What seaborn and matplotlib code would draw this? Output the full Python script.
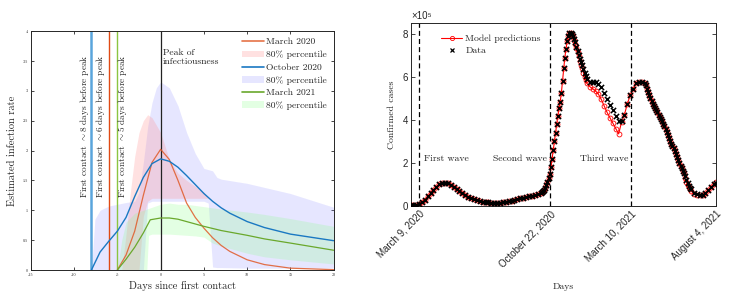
import matplotlib
matplotlib.use("Agg")
import matplotlib.pyplot as plt
import seaborn as sns
from matplotlib.lines import Line2D
from matplotlib.patches import Patch
from matplotlib.ticker import FormatStrFormatter

# ---- left panel: estimated infection rate ----
mar20_days = [-5, -4, -3, -2, -1, 0, 1, 2, 3, 4, 5, 6, 7, 8, 10, 12, 15, 20]
mar20_rate = [0, 0.25, 0.65, 1.25, 1.8, 2.02, 1.85, 1.5, 1.12, 0.88, 0.7, 0.54,
              0.41, 0.31, 0.17, 0.09, 0.03, 0.005]
oct20_days = [-8, -7, -6, -5, -4, -3, -2, -1, 0, 1, 2, 3, 4, 5, 6, 7, 8, 10, 12, 15, 20]
oct20_rate = [0, 0.3, 0.48, 0.65, 0.88, 1.23, 1.55, 1.78, 1.86, 1.82, 1.72, 1.58,
              1.43, 1.28, 1.15, 1.04, 0.95, 0.81, 0.71, 0.6, 0.49]
mar21_days = [-5, -4, -3, -2, -1.2, 0, 1, 2, 3, 5, 7, 10, 12, 15, 20]
mar21_rate = [0, 0.18, 0.38, 0.62, 0.84, 0.87, 0.87, 0.85, 0.81, 0.73, 0.66,
              0.58, 0.52, 0.45, 0.33]

# 80% percentile bands
mar20_bx = [-4.5, -4, -3.5, -3, -2.5, -2, -1.5, -1, 0, 1, 2, 3, 4, 5, 5.5]
mar20_hi = [0, 0.6, 1.3, 1.9, 2.3, 2.5, 2.6, 2.55, 2.3, 1.85, 1.62, 1.5, 1.4, 1.3, 1.2]
mar20_lo = [0, 0, 0, 0, 0, 0.9, 1.15, 1.2, 1.2, 1.2, 1.2, 1.2, 1.2, 1.2, 1.2]

oct20_bx = [-8, -7.6, -7, -6, -5, -4, -3, -2.5, -2, -1.5, -1, -0.5, 0, 1, 2, 3, 4,
            5, 5.5, 6, 6.5, 7, 10, 15, 20]
oct20_hi = [0, 0.85, 1.0, 1.07, 1.1, 1.13, 1.15, 1.3, 1.8, 2.4, 2.8, 3.05, 3.15,
            3.05, 2.75, 2.3, 1.95, 1.7, 1.68, 1.66, 1.55, 1.52, 1.45, 1.28, 1.05]
oct20_lo = [0, 0, 0, 0, 0, 0, 0, 0, 0, 1.12, 1.15, 1.15, 1.15, 1.15, 1.15, 1.15,
            1.15, 1.15, 1.12, 0.05, 0.04, 0.04, 0.03, 0.03, 0.03]

mar21_bx = [-5, -4.5, -4, -3, -2, -1.6, -1.4, -1, 0, 1, 2, 3, 4, 5, 6, 7, 10, 12, 15, 20]
mar21_hi = [0, 0.5, 0.8, 0.95, 1.0, 1.02, 1.03, 1.05, 1.1, 1.12, 1.1, 1.1, 1.08,
            1.06, 1.04, 1.02, 0.97, 0.93, 0.86, 0.73]
mar21_lo = [0, 0, 0, 0, 0, 0, 0.58, 0.6, 0.6, 0.6, 0.59, 0.58, 0.57, 0.55, 0.45,
            0.4, 0.28, 0.22, 0.17, 0.1]

first_contact = [-8, -6, -5]
contact_labels = ["First contact ${\\sim}$8 days before peak",
                  "First contact ${\\sim}$6 days before peak",
                  "First contact ${\\sim}$5 days before peak"]
contact_text_x = [-8.76, -6.95, -4.42]

# ---- right panel: confirmed cases (x 1e5), day 0 = March 9, 2020 ----
days = ([-14, -10, -5] + list(range(0, 211, 5)) + list(range(212, 291, 2))
        + list(range(295, 391, 5)) + list(range(392, 471, 2))
        + list(range(475, 511, 5)) + [513])
cases_data = [
    # -14 .. 210, every 5 days
    0.03, 0.04, 0.06,
    0.10, 0.18, 0.30, 0.45, 0.60, 0.76, 0.90, 1.00, 1.06, 1.09,
    1.06, 0.99, 0.90, 0.80, 0.70, 0.60, 0.50, 0.43, 0.37, 0.31,
    0.26, 0.23, 0.20, 0.18, 0.17, 0.16, 0.16, 0.16, 0.16, 0.17,
    0.19, 0.21, 0.23, 0.27, 0.31, 0.35, 0.39, 0.42, 0.45, 0.48,
    0.50, 0.54, 0.60,
    # 212 .. 290, every 2 days
    0.64, 0.69, 0.75, 0.85, 0.98, 1.12, 1.30, 1.50, 1.80, 2.20,
    2.60, 3.00, 3.40, 3.80, 4.20, 4.55, 4.85, 5.25, 5.80, 6.40,
    6.90, 7.30, 7.65, 7.90, 8.05, 8.05, 7.98, 7.90, 7.75, 7.60,
    7.40, 7.20, 7.00, 6.85, 6.70, 6.55, 6.38, 6.20, 6.05, 5.90,
    # 295 .. 390, every 5 days
    5.78, 5.75, 5.78, 5.65, 5.55, 5.25, 4.95, 4.70, 4.45, 4.20,
    3.95, 3.95, 4.25, 4.75, 5.15, 5.45, 5.70, 5.75, 5.75, 5.70,
    # 392 .. 470, every 2 days
    5.60, 5.46, 5.32, 5.16, 5.00, 4.88, 4.76, 4.65, 4.55, 4.45,
    4.35, 4.25, 4.15, 4.05, 3.95, 3.83, 3.71, 3.58, 3.44, 3.30,
    3.16, 3.02, 2.90, 2.80, 2.70, 2.56, 2.42, 2.28, 2.14, 2.00,
    1.88, 1.76, 1.64, 1.52, 1.40, 1.22, 1.06, 0.95, 0.85, 0.78,
    # 475 .. 513
    0.62, 0.55, 0.51, 0.53, 0.60, 0.73, 0.90, 1.03, 1.08]
cases_model = [
    0.03, 0.04, 0.06,
    0.10, 0.18, 0.30, 0.45, 0.60, 0.76, 0.90, 1.00, 1.06, 1.09,
    1.06, 0.99, 0.90, 0.80, 0.70, 0.60, 0.50, 0.43, 0.37, 0.31,
    0.26, 0.23, 0.20, 0.18, 0.17, 0.16, 0.16, 0.16, 0.16, 0.17,
    0.19, 0.21, 0.23, 0.27, 0.31, 0.35, 0.39, 0.42, 0.45, 0.48,
    0.50, 0.54, 0.60,
    0.64, 0.69, 0.75, 0.85, 0.98, 1.12, 1.30, 1.50, 1.80, 2.20,
    2.60, 3.00, 3.40, 3.80, 4.20, 4.55, 4.85, 5.25, 5.80, 6.40,
    6.90, 7.30, 7.65, 7.90, 8.05, 8.05, 7.98, 7.90, 7.72, 7.55,
    7.35, 7.15, 6.95, 6.75, 6.55, 6.40, 6.20, 6.00, 5.85, 5.70,
    5.55, 5.45, 5.35, 5.20, 4.95, 4.65, 4.35, 4.10, 3.85, 3.60,
    3.35, 3.90, 4.25, 4.75, 5.15, 5.45, 5.70, 5.75, 5.75, 5.70,
    5.60, 5.46, 5.32, 5.16, 5.00, 4.88, 4.76, 4.65, 4.55, 4.45,
    4.35, 4.25, 4.15, 4.05, 3.95, 3.83, 3.71, 3.58, 3.44, 3.30,
    3.16, 3.02, 2.90, 2.80, 2.70, 2.56, 2.42, 2.28, 2.14, 2.00,
    1.88, 1.76, 1.64, 1.52, 1.30, 1.12, 0.98, 0.88, 0.78, 0.72,
    0.58, 0.53, 0.51, 0.53, 0.60, 0.73, 0.90, 1.03, 1.10]
wave_starts = [0, 227, 366]
date_ticks = [0, 227, 366, 513]
date_labels = ["March 9, 2020", "October 22, 2020", "March 10, 2021", "August 4, 2021"]
wave_names = ["First wave", "Second wave", "Third wave"]
wave_text_x = [8.6, 128, 278]

sns.set_theme(style="ticks")
serif = ["cmr10", "DejaVu Serif"]
sans = ["Liberation Sans", "DejaVu Sans"]
plt.rcParams["font.family"] = serif
plt.rcParams["mathtext.fontset"] = "cm"
plt.rcParams["axes.unicode_minus"] = False
plt.rcParams["axes.linewidth"] = 0.7

c_mar20 = "#e05a28"
c_oct20 = "#1a78c2"
c_mar21 = "#6aa82c"
f_mar20 = (1.0, 0.55, 0.55, 0.26)
f_oct20 = (0.55, 0.55, 1.0, 0.21)
f_mar21 = (0.55, 1.0, 0.55, 0.24)

fig = plt.figure(figsize=(7.35, 2.96), dpi=100)
ax1 = fig.add_axes([0.042, 0.088, 0.412, 0.807])
ax2 = fig.add_axes([0.559, 0.304, 0.415, 0.618])

# left panel
ax1.fill_between(oct20_bx, oct20_lo, oct20_hi, color=f_oct20, lw=0)
ax1.fill_between(mar20_bx, mar20_lo, mar20_hi, color=f_mar20, lw=0)
ax1.fill_between(mar21_bx, mar21_lo, mar21_hi, color=f_mar21, lw=0)

for d, c, w in zip(first_contact, ["#5aa5dc", "#e04a14", "#8cc540"], [1.8, 1.0, 1.0]):
    ax1.axvline(d, color=c, lw=w)
ax1.axvline(0, color="#222222", lw=0.9)

sns.lineplot(x=mar20_days, y=mar20_rate, ax=ax1, color=c_mar20, lw=0.9, alpha=0.85)
sns.lineplot(x=oct20_days, y=oct20_rate, ax=ax1, color=c_oct20, lw=1.0)
sns.lineplot(x=mar21_days, y=mar21_rate, ax=ax1, color=c_mar21, lw=0.9)

for tx, s in zip(contact_text_x, contact_labels):
    ax1.text(tx, 1.21, s, rotation=90, ha="center", va="bottom", fontsize=6.7)
ax1.text(0.27, 3.7, "Peak of\ninfectiousness", ha="left", va="top", fontsize=6.9,
         linespacing=1.1)

ax1.set_xlim(-15, 20)
ax1.set_ylim(0, 4)
ax1.set_xticks(range(-15, 21, 5))
ax1.set_yticks([i * 0.5 for i in range(9)])
ax1.yaxis.set_major_formatter(FormatStrFormatter("%g"))
ax1.tick_params(direction="in", top=True, right=True, length=2.5, width=0.6,
                labelsize=3, pad=2)
ax1.set_xlabel("Days since first contact", fontsize=7.5, labelpad=3)
ax1.set_ylabel("Estimated infection rate", fontsize=7.5, labelpad=4)

handles = [Line2D([], [], color=c_mar20, lw=1.2, alpha=0.85), Patch(color=f_mar20, lw=0),
           Line2D([], [], color=c_oct20, lw=1.2), Patch(color=f_oct20, lw=0),
           Line2D([], [], color=c_mar21, lw=1.2), Patch(color=f_mar21, lw=0)]
labels = ["March 2020", "80% percentile", "October 2020", "80% percentile",
          "March 2021", "80% percentile"]
ax1.legend(handles, labels, loc="upper right", bbox_to_anchor=(1.0, 1.0), frameon=False,
           fontsize=6.9, handlelength=2.3, labelspacing=0.42, handletextpad=0.25,
           borderaxespad=0.3)

# right panel
sns.lineplot(x=days, y=cases_model, ax=ax2, color="red", lw=0.8, marker="o",
             markersize=3.5, markerfacecolor="none", markeredgecolor="red",
             markeredgewidth=0.6)
sns.scatterplot(x=days, y=cases_data, ax=ax2, color="black", marker="x", s=14,
                linewidth=1.1, zorder=3)
for d in wave_starts:
    ax2.axvline(d, color="black", lw=0.9, ls=(0, (4, 2.5)))
for tx, s in zip(wave_text_x, wave_names):
    ax2.text(tx, 2.2, s, ha="left", va="center", fontsize=7, color="#222222")

ax2.set_xlim(-14, 513)
ax2.set_ylim(0, 8.5)
ax2.set_yticks([0, 2, 4, 6, 8])
ax2.set_xticks(date_ticks)
ax2.set_xticklabels(date_labels, rotation=45, ha="right", rotation_mode="anchor")
ax2.tick_params(direction="in", top=True, right=True, length=3, width=0.6,
                labelsize=7, labelfontfamily="Liberation Sans", pad=2)
ax2.text(0.0, 1.01, "×10⁵", transform=ax2.transAxes, ha="left", va="bottom",
         fontsize=7, family=sans)
ax2.set_xlabel("Days", fontsize=7, labelpad=10)
ax2.set_ylabel("Confirmed cases", fontsize=7, labelpad=5)

rh = [Line2D([], [], color="red", lw=0.8, marker="o", ms=3, mfc="none", mew=0.6),
      Line2D([], [], color="black", lw=0, marker="x", ms=2.5, mew=0.9)]
ax2.legend(rh, ["Model predictions", "Data"], loc="upper left",
           bbox_to_anchor=(0.08, 0.97), frameon=False, fontsize=7, handlelength=2.2,
           labelspacing=0.3, handletextpad=0.3, borderaxespad=0.2)

fig.savefig("out.png", dpi=100)
